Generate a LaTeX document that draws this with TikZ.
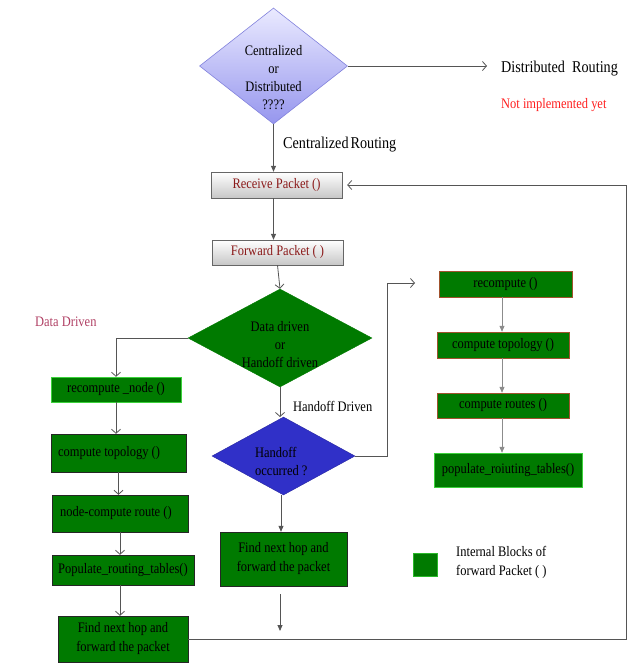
\documentclass[tikz,border=0pt]{standalone}
\usepackage{fontspec}
\setmainfont[FakeStretch=0.86]{Liberation Serif}
\usetikzlibrary{shapes.geometric,arrows.meta,calc}
\definecolor{gfill}{RGB}{0,122,0}
\definecolor{gbright}{RGB}{60,210,60}
\definecolor{gbrown}{RGB}{160,82,45}
\definecolor{bluefill}{RGB}{48,48,200}
\definecolor{lavtop}{RGB}{234,234,255}
\definecolor{lavbot}{RGB}{150,150,238}
\definecolor{lavdraw}{RGB}{130,130,220}
\definecolor{darkred}{RGB}{139,26,26}
\definecolor{pinkred}{RGB}{176,64,100}
\definecolor{notred}{RGB}{255,30,30}
\definecolor{linegray}{RGB}{85,85,85}
\tikzset{
  txt/.style={font=\fontsize{14.5}{17}\selectfont, inner sep=0pt},
  bigtxt/.style={font=\fontsize{16.5}{18}\selectfont, inner sep=0pt},
  greybox/.style={rectangle, top color=white, bottom color=black!22, draw=black!60, txt, text=darkred},
  gbox/.style={rectangle, fill=gfill, draw=black!85, txt, text=black, align=center},
  openarr/.style={draw=linegray, line width=0.8pt, -{Straight Barb[length=4pt,width=9pt]}},
  fillarr/.style={draw=linegray, line width=0.8pt, -{Triangle[length=6pt,width=5pt]}},
}
\begin{document}
\begin{tikzpicture}[x=1pt,y=-1pt]
\useasboundingbox (0,0) rectangle (631,664);

% top decision
\node[diamond, inner sep=0pt, minimum width=148pt, minimum height=116pt,
      top color=lavtop, bottom color=lavbot, draw=lavdraw, line width=0.6pt] (cd) at (273.5,66) {};
\node[txt, align=center, font=\fontsize{14.5}{18}\selectfont] (cdt) at (273.5,78) {Centralized\\or\\Distributed\\????};
\coordinate (distend) at (487,66);
\draw[openarr] (cd.east) -- (distend);
\node[bigtxt, anchor=west] (dr) at (501,69) {Distributed\ \ Routing};
\node[txt, anchor=west, text=notred] (ni) at (501,105) {Not implemented yet};

% centralized
\node[greybox, minimum width=131pt, minimum height=26pt] (recv) at (276.5,185) {Receive Packet ()};
\node[greybox, minimum width=131pt, minimum height=25pt] (fwd) at (277.5,252.5) {Forward Packet ( )};
\draw[fillarr] (cd.south) -- (cd.south |- recv.north);
\node[bigtxt, anchor=west] (cr) at (283,145) {Centralized\hspace{2pt}Routing};
\draw[fillarr] (recv.south -| cd.south) -- (fwd.north -| cd.south);

% data / handoff decision
\node[diamond, inner sep=0pt, minimum width=184pt, minimum height=98pt, fill=gfill, draw=gfill] (dd) at (280,338) {};
\node[txt, align=center, font=\fontsize{14.5}{18}\selectfont] (ddt) at (280,345) {Data driven\\or\\Handoff driven};
\draw[openarr] (fwd.south) -- (dd.north);

\node[txt, anchor=west, text=pinkred] (dl) at (35,322) {Data Driven};

% left column
\node[gbox, draw=gbright, minimum width=130pt, minimum height=25pt] (rnode) at (116,389.5) {recompute \_node ()};
\node[gbox, minimum width=135pt, minimum height=38pt] (ctop1) at (118.5,453) {};
\node[txt, anchor=west] (ctop1t) at (58,453) {compute topology ()};
\node[gbox, minimum width=136pt, minimum height=37pt] (ncr) at (120,513.5) {};
\node[txt, anchor=west] (ncrt) at (60,513.5) {node-compute route ()};
\node[gbox, minimum width=142pt, minimum height=30pt] (pop1) at (123,570) {Populate\_routing\_tables()};
\node[gbox, minimum width=130pt, minimum height=46pt, font=\fontsize{14.5}{19}\selectfont] (fnh1) at (123,639) {Find next hop and\\forward the packet};

\draw[openarr] (dd.west) -| (rnode.north);
\draw[openarr] (rnode.south) -- (rnode.south |- ctop1.north);
\draw[openarr] (ctop1.south) -- (ctop1.south |- ncr.north);
\draw[openarr] (ncr.south) -- (ncr.south |- pop1.north);
\draw[openarr] (pop1.south -| ncr.south) -- (fnh1.north -| ncr.south);

% handoff
\draw[openarr] (dd.south) -- (280,417);
\node[diamond, inner sep=0pt, minimum width=143pt, minimum height=78pt, fill=bluefill, draw=bluefill!80!black] (hd) at (283.5,456) {};
\node[txt, align=left, anchor=west, font=\fontsize{14.5}{18}\selectfont] (hdt) at (255,461) {Handoff\\occurred ?};
\node[txt, anchor=west] (hdl) at (293,406) {Handoff Driven};

\node[gbox, minimum width=127pt, minimum height=54pt, font=\fontsize{14.5}{19}\selectfont] (fnh2) at (283.5,559) {Find next hop and\\forward the packet};
\draw[fillarr] (hd.south -| 281,0) -- (fnh2.north -| 281,0);
\coordinate (la1) at (280,594);
\coordinate (la2) at (280,631);
\draw[fillarr] (la1) -- (la2);

% right column
\coordinate (hbend) at (387,283);
\coordinate (hend) at (415,283);
\draw[openarr] (hd.east) -| (hbend) -- (hend);

\node[gbox, draw=gbrown, minimum width=133pt, minimum height=26pt] (rc) at (505.5,284) {recompute ()};
\node[gbox, draw=gbrown, minimum width=132pt, minimum height=26pt] (ct2) at (503,345) {compute topology ()};
\node[gbox, draw=gbrown, minimum width=132pt, minimum height=25pt] (crt) at (503,405.5) {compute routes ()};
\node[gbox, draw=gbright, minimum width=148pt, minimum height=34pt] (pop2) at (508,470) {populate\_roiuting\_tables()};
\draw[fillarr, draw=black!45] (rc.south -| 502,0) -- (ct2.north -| 502,0);
\draw[fillarr, draw=black!45] (ct2.south -| 502,0) -- (crt.north -| 502,0);
\draw[fillarr, draw=black!45] (crt.south -| 502,0) -- (pop2.north -| 502,0);

% feedback
\coordinate (fb) at (626,185);
\draw[openarr, shorten >=5pt] (fnh1.east) -| (fb) -- (recv.east);

% legend
\node[rectangle, fill=gfill, draw=gbright!70!gfill, minimum width=24pt, minimum height=23pt, inner sep=0pt] (leg) at (425,564.5) {};
\node[txt, align=left, anchor=west, font=\fontsize{14.5}{19}\selectfont] (legt) at (456,562.5) {Internal Blocks of\\forward Packet ( )};
\end{tikzpicture}
\end{document}
